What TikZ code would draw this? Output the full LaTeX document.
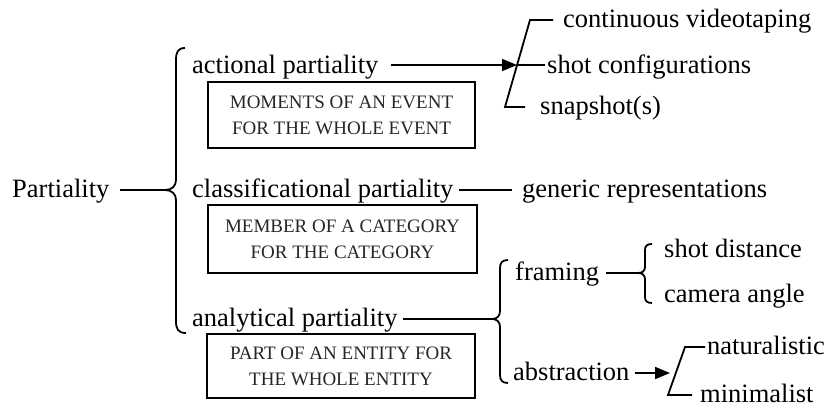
\documentclass[tikz,border=0pt]{standalone}
\usepackage{fontspec}
\setmainfont{Liberation Serif}
\usetikzlibrary{arrows.meta}
\begin{document}
\begin{tikzpicture}[x=1pt,y=-1pt,
  lbl/.style={anchor=base west,inner sep=0pt,font=\fontsize{26.5}{30}\selectfont},
  boxnode/.style={draw,line width=1.9pt,align=center,inner sep=0pt,
    font=\fontsize{19}{26}\selectfont,text=black!85},
  ln/.style={line width=1.8pt},
  arr/.style={ln,-{Triangle[length=15pt,width=12pt]}}]
\useasboundingbox (0,0) rectangle (834,407);

% texts
\node[lbl] (P) at (12,197) {Partiality};
\node[lbl] (act) at (192,73) {actional partiality};
\node[lbl] (cls) at (192,197) {classificational partiality};
\node[lbl] (ana) at (192,326) {analytical partiality};
\node[lbl] (cont) at (563,27) {continuous videotaping};
\node[lbl] (shot) at (547,73) {shot configurations};
\node[lbl] (snap) at (540,114) {snapshot(s)};
\node[lbl] (gen) at (522,197) {generic representations};
\node[lbl] (fram) at (515,280) {framing};
\node[lbl] (abs) at (513,380) {abstraction};
\node[lbl] (sd) at (664,257) {shot distance};
\node[lbl] (ca) at (664,302) {camera angle};
\node[lbl] (nat) at (707,354) {naturalistic};
\node[lbl] (mini) at (700,402) {minimalist};

% boxes
\node[boxnode,minimum width=267pt,minimum height=66pt] (b1) at (341.5,115)
  {MOMENTS OF AN EVENT\\FOR THE WHOLE EVENT};
\node[boxnode,minimum width=269pt,minimum height=68pt] (b2) at (342.5,239)
  {MEMBER OF A CATEGORY\\FOR THE CATEGORY};
\node[boxnode,minimum width=268pt,minimum height=64pt] (b3) at (341,366)
  {PART OF AN ENTITY FOR\\THE WHOLE ENTITY};

% key points
\coordinate (tipM) at (165,190);
\coordinate (tipA) at (492,319);
\coordinate (tipF) at (638,273);
\coordinate (a1) at (517,65);
\coordinate (a2) at (670,373);

% main brace
\draw[ln] (185,48) .. controls (178,48) and (176,52) .. (176,60) -- (176,180)
  .. controls (176,186) and (172,190) .. (tipM)
  .. controls (172,190) and (176,194) .. (176,200) -- (176,321)
  .. controls (176,329) and (178,333) .. (186,333);
\draw[ln] ([shift={(10,-7)}]P.base east) -- (tipM);

% actional
\draw[arr] ([shift={(12,-8)}]act.base east) -- (a1);
\draw[ln] ([shift={(-10,-7)}]cont.base west) -- (530,20) -- (505,107) -- ([shift={(-15,-7)}]snap.base west);
\draw[ln] (a1) -- ([shift={(-2,-8)}]shot.base west);

% classificational
\draw[ln] ([shift={(5,-7)}]cls.base east) -- ([shift={(-10,-7)}]gen.base west);

% analytical brace
\draw[ln] ([shift={(5,-7)}]ana.base east) -- (tipA);
\draw[ln] (508,260) .. controls (502,260) and (500,263) .. (500,268) -- (500,311)
  .. controls (500,316) and (497,319) .. (tipA)
  .. controls (497,319) and (500,322) .. (500,327) -- (500,375)
  .. controls (500,380) and (502,383) .. (508,383);

% framing brace
\draw[ln] ([shift={(7,-7)}]fram.base east) -- (tipF);
\draw[ln] (652,244) .. controls (647,244) and (645,246) .. (645,250) -- (645,267)
  .. controls (645,271) and (642,273) .. (tipF)
  .. controls (642,273) and (645,275) .. (645,279) -- (645,297)
  .. controls (645,301) and (647,303) .. (652,303);

% abstraction
\draw[arr] ([shift={(5,-7)}]abs.base east) -- (a2);
\draw[ln] ([shift={(-2,-7)}]nat.base west) -- (685,347) -- (668,395) -- ([shift={(-8,-7)}]mini.base west);
\end{tikzpicture}
\end{document}
